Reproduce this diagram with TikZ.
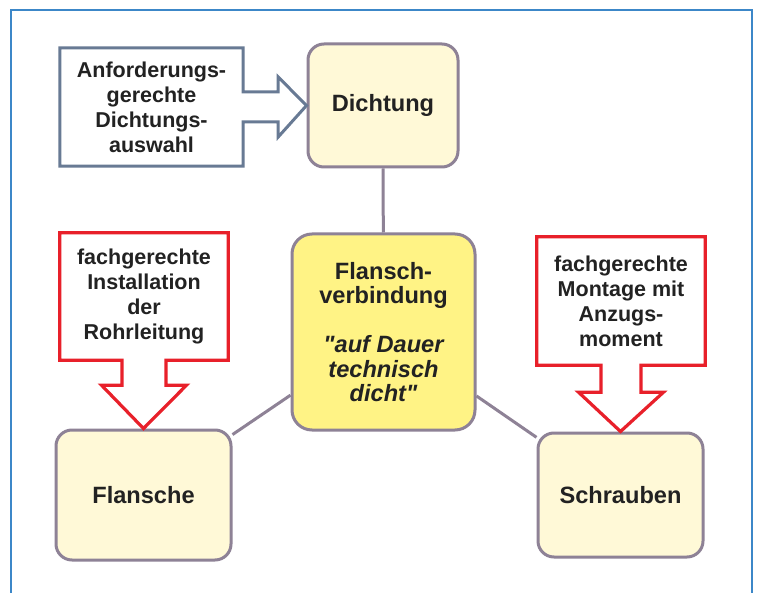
\documentclass[tikz,border=0pt]{standalone}
\usepackage{fontspec}
\setmainfont{Liberation Sans}[Ligatures=TeXOff]
\usetikzlibrary{calc}
\definecolor{frameblue}{HTML}{3C87C8}
\definecolor{boxedge}{HTML}{8E8296}
\definecolor{lightfill}{HTML}{FFF9D7}
\definecolor{centerfill}{HTML}{FFF385}
\definecolor{slateedge}{HTML}{687A94}
\definecolor{redge}{HTML}{E8202A}
\definecolor{txt}{HTML}{222222}
\tikzset{
  smalltext/.style={font=\bfseries\fontsize{21.5}{25}\selectfont, text=txt, align=center},
  bigtext/.style={font=\bfseries\fontsize{23.6}{24.5}\selectfont, text=txt, align=center},
  termbox/.style={bigtext, draw=boxedge, line width=3pt, fill=lightfill, rounded corners=16pt, inner sep=0pt},
  centrebox/.style={bigtext, draw=boxedge, line width=3pt, fill=centerfill, rounded corners=20pt, inner sep=0pt},
  callout/.style={smalltext, inner sep=0pt},
  link/.style={draw=boxedge, line width=3pt},
  slatearrow/.style={draw=slateedge, line width=3pt, fill=white, line join=miter},
  redarrow/.style={draw=redge, line width=3.2pt, fill=white, line join=miter}
}
\begin{document}
\begin{tikzpicture}[x=1pt,y=-1pt]
\useasboundingbox (0,0) rectangle (757,593);
\fill[white] (0,0) rectangle (757,593);
\draw[frameblue, line width=2pt] (11,605) -- (11,10) -- (752,10) -- (752,605);

% main nodes
\node[termbox, minimum width=150pt, minimum height=123pt] (dicht) at (383,105.5) {Dichtung};
\node[centrebox, minimum width=183pt, minimum height=196pt] (flv) at (383.5,332)
  {Flansch-\\verbindung\\[24.5pt]\itshape "auf Dauer\\\itshape technisch\\\itshape dicht"};
\node[termbox, minimum width=175pt, minimum height=130pt] (fl) at (143.5,495) {Flansche};
\node[termbox, minimum width=165pt, minimum height=124pt] (schr) at (620.5,495) {Schrauben};

% connectors
\draw[link] (dicht) -- (flv);
\draw[link] (flv) -- (fl);
\draw[link] (flv) -- (schr);

% callout arrows
\node[callout, minimum width=183pt, minimum height=118pt] (req) at (151.5,107) {};
\draw[slatearrow] (req.north west) -- (req.north east) -- ($(req.east)+(0,-15)$) -- ++(35,0) -- ++(0,-15)
  -- (dicht.west) -- ($(req.east)+(35,30)$) -- ++(0,-15) -- ($(req.east)+(0,15)$)
  -- (req.south east) -- (req.south west) -- cycle;
\node[callout] at (req) {Anforderungs-\\gerechte\\Dichtungs-\\auswahl};

\node[callout, minimum width=168pt, minimum height=127pt] (inst) at (144,296.5) {};
\draw[redarrow] (inst.north west) -- (inst.north east) -- (inst.south east)
  -- ($(inst.south)+(22,0)$) -- ++(0,25) -- ($(inst.south)+(42.5,25)$) -- (fl.north)
  -- ($(inst.south)+(-42.5,25)$) -- ($(inst.south)+(-22,25)$) -- ($(inst.south)+(-22,0)$)
  -- (inst.south west) -- cycle;
\node[callout] at (inst) {fachgerechte\\Installation\\der\\Rohrleitung};

\node[callout, minimum width=168pt, minimum height=128pt] (mont) at (621,301) {};
\draw[redarrow] (mont.north west) -- (mont.north east) -- (mont.south east)
  -- ($(mont.south)+(20,0)$) -- ++(0,27) -- ($(mont.south)+(42.5,27)$) -- (schr.north)
  -- ($(mont.south)+(-42.5,27)$) -- ($(mont.south)+(-20,27)$) -- ($(mont.south)+(-20,0)$)
  -- (mont.south west) -- cycle;
\node[callout] at (mont) {fachgerechte\\Montage mit\\Anzugs-\\moment};
\end{tikzpicture}
\end{document}
